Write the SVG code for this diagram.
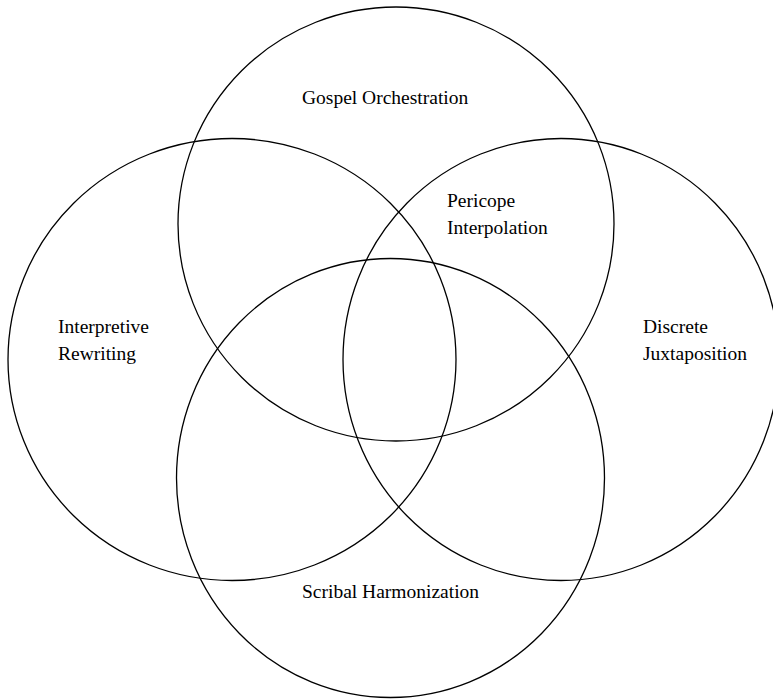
<svg xmlns="http://www.w3.org/2000/svg" width="773" height="699" viewBox="0 0 773 699">
<style>
.set{fill:none;stroke:#000;stroke-width:1.3}
.lbl{font-family:"Liberation Serif","Times New Roman",serif;font-size:19.5px;fill:#000}
</style>
<rect width="773" height="699" fill="#fff"/>
<g id="connectors"/>
<g id="gospel-orchestration">
<ellipse class="set" cx="396" cy="224" rx="218" ry="217"/>
<text class="lbl" x="302" y="104">Gospel Orchestration</text>
</g>
<g id="interpretive-rewriting">
<ellipse class="set" cx="232" cy="359.5" rx="224" ry="221"/>
<text class="lbl" x="58" y="333">Interpretive</text>
<text class="lbl" x="58" y="360">Rewriting</text>
</g>
<g id="discrete-juxtaposition">
<ellipse class="set" cx="561" cy="359.5" rx="218" ry="221"/>
<text class="lbl" x="643" y="333">Discrete</text>
<text class="lbl" x="643" y="360">Juxtaposition</text>
</g>
<g id="scribal-harmonization">
<ellipse class="set" cx="390.5" cy="478" rx="214" ry="219.5"/>
<text class="lbl" x="302" y="598">Scribal Harmonization</text>
</g>
<g id="pericope-interpolation">
<text class="lbl" x="447" y="207">Pericope</text>
<text class="lbl" x="447" y="234">Interpolation</text>
</g>
</svg>
